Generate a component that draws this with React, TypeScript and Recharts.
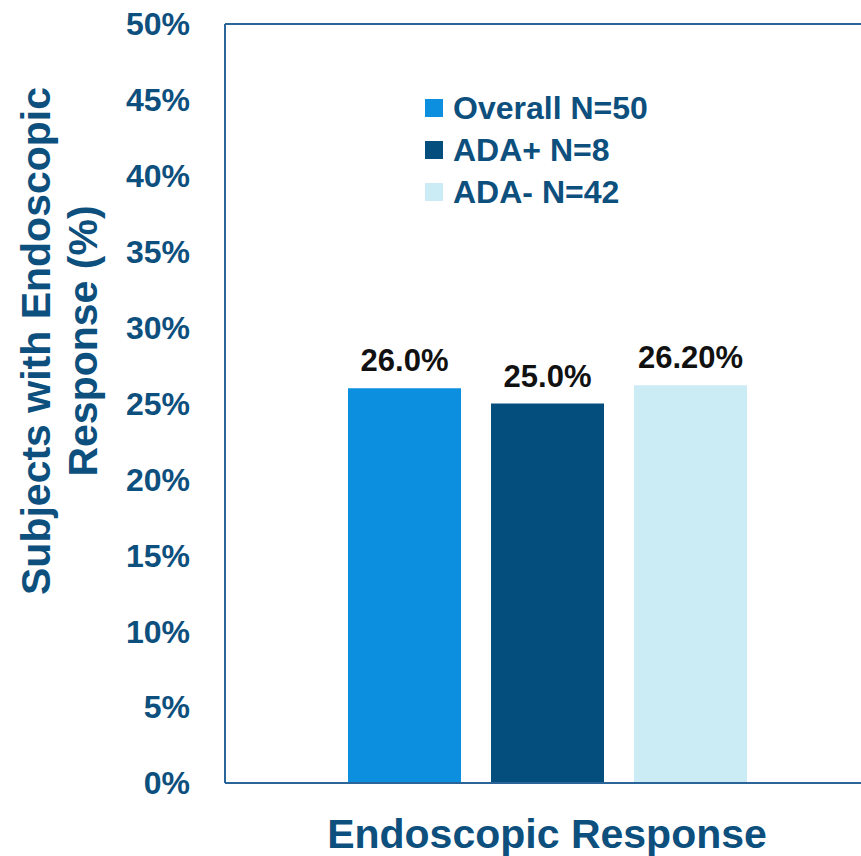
import React from "react";
import {
  BarChart,
  Bar,
  XAxis,
  YAxis,
  Legend,
  LabelList,
  Label,
  ReferenceLine,
} from "recharts";

const categories = ["Endoscopic Response"];
const overall = [26.0];
const adaPositive = [25.0];
const adaNegative = [26.2];

const seriesKeys = ["overall", "adaPos", "adaNeg"];
const seriesNames = ["Overall N=50", "ADA+ N=8", "ADA- N=42"];
const seriesColors = ["#0b8fde", "#044e7d", "#cbebf5"];
const labelDecimals = [1, 1, 2];

const yTicks = [0, 5, 10, 15, 20, 25, 30, 35, 40, 45, 50];

const data = categories.map((name, i) => ({
  name,
  overall: overall[i],
  adaPos: adaPositive[i],
  adaNeg: adaNegative[i],
}));

// Layout
const W = 880;
const H = 856;
const FONT = "'Liberation Sans', Arial, Helvetica, sans-serif";
const NAVY = "#0d4f7d";
const FRAME = "#2a6499";

const renderValueLabel = (decimals: number) => (props: any) => {
  const { x, y, width, value } = props;
  return (
    <text
      x={Number(x) + Number(width) / 2}
      y={Number(y) - 17}
      textAnchor="middle"
      fontFamily={FONT}
      fontWeight="bold"
      fontSize={31}
      fill="#111111"
    >
      {`${Number(value).toFixed(decimals)}%`}
    </text>
  );
};

const renderXTitle = () => (
  <text
    x={547}
    y={848}
    textAnchor="middle"
    fontFamily={FONT}
    fontWeight="bold"
    fontSize={41}
    fill={NAVY}
  >
    Endoscopic Response
  </text>
);

const renderYTitle = () => (
  <g fontFamily={FONT} fontWeight="bold" fontSize={41} fill={NAVY}>
    <text x={50} y={341} textAnchor="middle" transform="rotate(-90 50 341)">
      Subjects with Endoscopic
    </text>
    <text x={97} y={341} textAnchor="middle" transform="rotate(-90 97 341)">
      Response (%)
    </text>
  </g>
);

// keep legend rows in series order rather than alphabetical
const renderLegend = (props: any) => {
  const items = [...(props.payload || [])].sort(
    (a: any, b: any) => seriesNames.indexOf(a.value) - seriesNames.indexOf(b.value)
  );
  return (
    <div style={{ fontFamily: FONT }}>
      {items.map((entry: any) => (
        <div
          key={entry.value}
          style={{ display: "flex", alignItems: "center", height: 42 }}
        >
          <div
            style={{
              width: 18,
              height: 18,
              background: entry.color,
              marginRight: 10,
            }}
          />
          <span
            style={{
              fontSize: 32,
              fontWeight: "bold",
              color: NAVY,
              lineHeight: "42px",
            }}
          >
            {entry.value}
          </span>
        </div>
      ))}
    </div>
  );
};

export default function App() {
  return (
    <div
      style={{
        position: "absolute",
        left: 0,
        top: 0,
        width: 861,
        height: 856,
        overflow: "hidden",
        background: "#ffffff",
      }}
    >
      <BarChart
        width={W}
        height={H}
        data={data}
        margin={{ top: 24, right: 11, bottom: 0, left: 0 }}
        barGap={30}
        barSize={113}
      >
        <XAxis
          dataKey="name"
          height={73}
          tick={false}
          tickLine={false}
          axisLine={{ stroke: FRAME, strokeWidth: 2 }}
        >
          <Label content={renderXTitle} />
        </XAxis>
        <YAxis
          width={225}
          domain={[0, 50]}
          ticks={yTicks}
          tickFormatter={(v: number) => `${v}%`}
          tickLine={false}
          tickSize={0}
          tickMargin={35}
          axisLine={{ stroke: FRAME, strokeWidth: 2 }}
          tick={{
            fill: NAVY,
            fontSize: 32,
            fontWeight: "bold",
            fontFamily: FONT,
          }}
          interval={0}
        >
          <Label content={renderYTitle} />
        </YAxis>
        <ReferenceLine y={50} stroke={FRAME} strokeWidth={2} />
        <Legend
          layout="horizontal"
          align="center"
          verticalAlign="middle"
          content={renderLegend}
          wrapperStyle={{ position: "absolute", left: 425, top: 87, width: 300 }}
        />
        {seriesKeys.map((key, i) => (
          <Bar
            key={key}
            dataKey={key}
            name={seriesNames[i]}
            fill={seriesColors[i]}
            isAnimationActive={false}
          >
            <LabelList dataKey={key} content={renderValueLabel(labelDecimals[i])} />
          </Bar>
        ))}
      </BarChart>
    </div>
  );
}
